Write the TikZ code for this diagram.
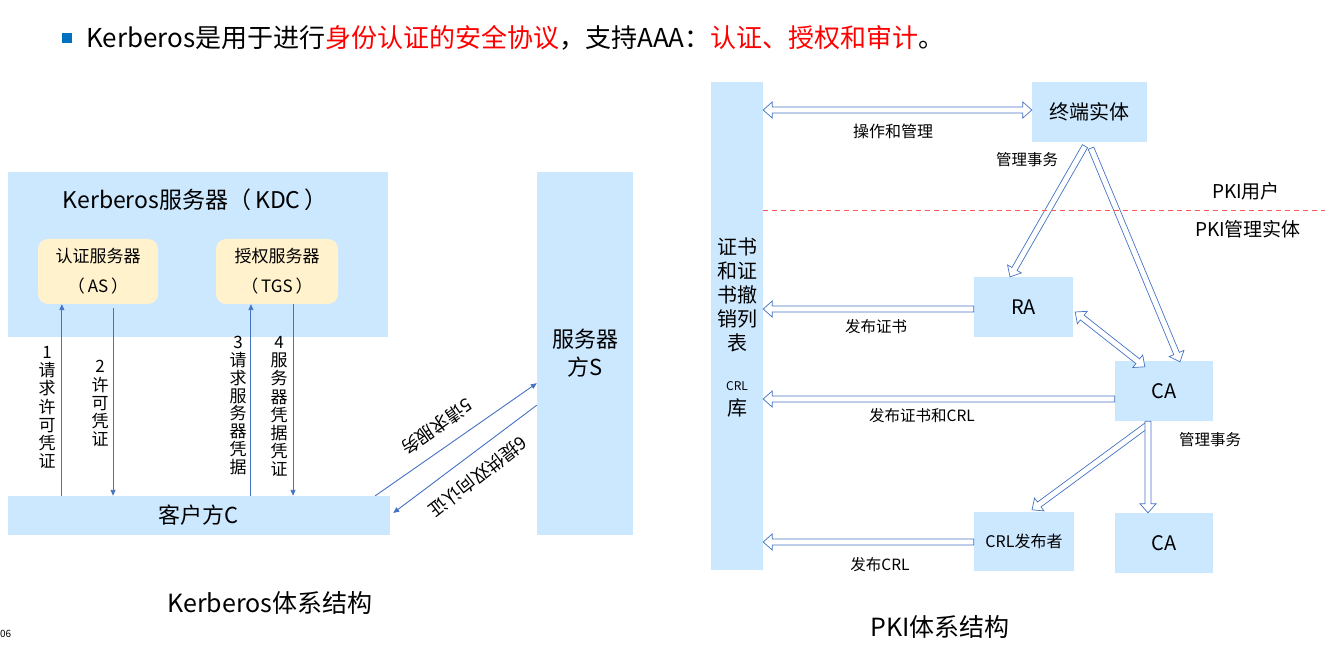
\documentclass[tikz,border=0pt]{standalone}
\usepackage{fontspec}
\setmainfont{Noto Sans CJK SC}
\usetikzlibrary{calc,arrows.meta}

\definecolor{boxblue}{RGB}{204,232,255}
\definecolor{boxcream}{RGB}{255,242,204}
\definecolor{lineblue}{RGB}{68,114,196}
\definecolor{titlered}{RGB}{255,0,0}
\definecolor{dashred}{RGB}{255,85,85}
\definecolor{bulletblue}{RGB}{0,112,192}

\tikzset{
  bluebox/.style={fill=boxblue, draw=none, inner sep=0pt},
  creambox/.style={fill=boxcream, draw=none, rounded corners=10pt, inner sep=0pt, align=center},
  kline/.style={draw=lineblue, line width=0.9pt, -{Triangle[length=6pt,width=5pt]}},
  hollowline/.style={draw=lineblue, line width=0.7pt, fill=white, line join=miter},
  lbl/.style={inner sep=0pt, align=center},
}

% hollow block arrow: tail, tip
\newcommand{\hollowarrow}[2]{%
  \coordinate (hb) at ($(#2)!9pt!(#1)$);
  \draw[hollowline] ($(#1)!3pt!-90:(#2)$) -- ($(hb)!3pt!90:(#1)$) -- ($(hb)!8pt!90:(#1)$) -- (#2)
    -- ($(hb)!8pt!-90:(#1)$) -- ($(hb)!3pt!-90:(#1)$) -- ($(#1)!3pt!90:(#2)$) -- cycle;}
% hollow block arrow with two heads
\newcommand{\hollowdouble}[2]{%
  \coordinate (ha) at ($(#1)!9pt!(#2)$);
  \coordinate (hb) at ($(#2)!9pt!(#1)$);
  \draw[hollowline] (#1) -- ($(ha)!8pt!-90:(#2)$) -- ($(ha)!3pt!-90:(#2)$) -- ($(hb)!3pt!90:(#1)$)
    -- ($(hb)!8pt!90:(#1)$) -- (#2) -- ($(hb)!8pt!-90:(#1)$) -- ($(hb)!3pt!-90:(#1)$)
    -- ($(ha)!3pt!90:(#2)$) -- ($(ha)!8pt!90:(#2)$) -- cycle;}

\begin{document}
\begin{tikzpicture}[x=1pt,y=1pt,yscale=-1]
\useasboundingbox (0,0) rectangle (1325,660);

%Shape: Square [id:bullet]
\fill[bulletblue] (62,33) rectangle (72,43);
% Text Node
\node (title) [lbl, anchor=west, font=\fontsize{26}{30}\selectfont] at (86,38) {Kerberos是用于进行\textcolor{titlered}{身份认证的安全协议}，支持AAA：\textcolor{titlered}{认证、授权和审计}。};

%Shape: Rectangle [id:kdc]
\node (kdc) [bluebox, minimum width=380, minimum height=165] at (198,254.5) {};
% Text Node
\node (kdctitle) [lbl, font=\fontsize{23}{26}\selectfont] at (195,200) {Kerberos服务器（\,KDC\,）};
%Shape: Rounded Rect [id:as]
\node (as) [creambox, minimum width=120, minimum height=65, font=\fontsize{17}{30}\selectfont] at (98,271.5) {认证服务器\\（\,AS\,）};
%Shape: Rounded Rect [id:tgs]
\node (tgs) [creambox, minimum width=122, minimum height=65, font=\fontsize{17}{30}\selectfont] at (277,271.5) {授权服务器\\（\,TGS\,）};
%Shape: Rectangle [id:client]
\node (client) [bluebox, minimum width=382, minimum height=39, font=\fontsize{22}{26}\selectfont] at (199,515.5) {客户方C};
%Shape: Rectangle [id:server]
\node (server) [bluebox, minimum width=96, minimum height=363, align=center, font=\fontsize{22}{28}\selectfont] at (585,353.5) {服务器\\方S};

\coordinate (a1) at ($(as.south west)!0.2!(as.south east)$);
\coordinate (a2) at ($(as.south west)!0.625!(as.south east)$);
\coordinate (a3) at ($(tgs.south west)!0.287!(tgs.south east)$);
\coordinate (a4) at ($(tgs.south west)!0.631!(tgs.south east)$);
%Straight Lines
\draw[kline] (client.north -| a1) -- (a1);
\draw[kline] ($(a2)+(0,4)$) -- (client.north -| a2);
\draw[kline] (client.north -| a3) -- (a3);
\draw[kline] (a4) -- (client.north -| a4);
\draw[kline] ($(client.north east)+(-15,0)$) -- ($(server.south west)+(0,-152)$);
\draw[kline] ($(server.south west)+(0,-130)$) -- ($(client.east)+(3,-2.5)$);

% Text Node
\node (l1) [lbl, font=\fontsize{17}{18.2}\selectfont] at (47,407.5) {1\\请\\求\\许\\可\\凭\\证};
\node (l2) [lbl, font=\fontsize{17}{18.2}\selectfont] at (100,403.5) {2\\许\\可\\凭\\证};
\node (l3) [lbl, font=\fontsize{17}{17.9}\selectfont] at (238,405.5) {3\\请\\求\\服\\务\\器\\凭\\据};
\node (l4) [lbl, font=\fontsize{17}{18.1}\selectfont] at (279,406.5) {4\\服\\务\\器\\凭\\据\\凭\\证};
\node (l5) [lbl, font=\fontsize{18}{20}\selectfont, rotate=215] at (437,427) {5请求服务};
\node (l6) [lbl, font=\fontsize{18}{20}\selectfont, rotate=218] at (478,477) {6提供双向认证};
% Text Node
\node (kcap) [lbl, font=\fontsize{25}{28}\selectfont] at (270,603) {Kerberos体系结构};
\node (page) [lbl, anchor=west, font=\fontsize{10}{12}\selectfont] at (0,634) {06};

%Shape: Rectangle [id:lib]
\node (lib) [bluebox, minimum width=52, minimum height=488] at (737,326) {};
\node (libtext) [lbl, font=\fontsize{20}{24}\selectfont] at (737,295) {证书\\和证\\书撤\\销列\\表};
\node (crltext) [lbl, font=\fontsize{12}{14}\selectfont] at (737,386) {CRL};
\node (kutext) [lbl, font=\fontsize{20}{24}\selectfont] at (737,408) {库};
%Shape: Rectangle [id:ee]
\node (ee) [bluebox, minimum width=115, minimum height=60, font=\fontsize{20}{24}\selectfont] at (1089.5,112) {终端实体};
\node (ra) [bluebox, minimum width=99, minimum height=60, font=\fontsize{20}{24}\selectfont] at (1023.5,307) {RA};
\node (ca) [bluebox, minimum width=98, minimum height=60, font=\fontsize{20}{24}\selectfont] at (1164,391) {CA};
\node (ca2) [bluebox, minimum width=98, minimum height=60, font=\fontsize{20}{24}\selectfont] at (1164,543) {CA};
\node (crlpub) [bluebox, minimum width=100, minimum height=59, font=\fontsize{16}{20}\selectfont] at (1024,541.5) {CRL发布者};

%Hollow Arrows
\coordinate (eeL) at ($(ee.west)+(0,-2)$);
\coordinate (libE) at (lib.east |- eeL);
\hollowdouble{libE}{eeL}
\coordinate (eeS1) at ($(ee.south)+(-4.5,4)$);
\coordinate (raN) at ($(ra.north)+(-13.5,0)$);
\hollowarrow{eeS1}{raN}
\coordinate (eeS2) at ($(ee.south)+(1.5,6)$);
\coordinate (caN) at ($(ca.north)+(16,1)$);
\hollowarrow{eeS2}{caN}
\coordinate (raE) at ($(ra.east)+(2,5)$);
\coordinate (caNW) at ($(ca.north west)+(30,6)$);
\hollowdouble{raE}{caNW}
\coordinate (raW) at ($(ra.west)+(0,2)$);
\coordinate (libR) at (lib.east |- raW);
\hollowarrow{raW}{libR}
\coordinate (caW) at ($(ca.west)+(0,8)$);
\coordinate (libC) at (lib.east |- caW);
\hollowarrow{caW}{libC}
\coordinate (caS1) at ($(ca.south)+(-17,4)$);
\coordinate (crlN) at ($(crlpub.north)+(8,-2)$);
\hollowarrow{caS1}{crlN}
\coordinate (caS2) at ($(ca.south)+(-16,0)$);
\coordinate (ca2N) at ($(ca2.north)+(-16,0)$);
\hollowarrow{caS2}{ca2N}
\coordinate (crlW) at ($(crlpub.west)+(0,0.5)$);
\coordinate (libP) at (lib.east |- crlW);
\hollowarrow{crlW}{libP}

%Straight Lines [dashed]
\draw[dashred, line width=1pt, dash pattern=on 5pt off 4pt] ($(lib.east)+(0,-115)$) -- ++(562,0);

% Text Node
\node (t1) [lbl, font=\fontsize{16}{20}\selectfont] at (893,131) {操作和管理};
\node (t2) [lbl, font=\fontsize{15.5}{20}\selectfont] at (1027,160) {管理事务};
\node (t3) [lbl, font=\fontsize{15.5}{20}\selectfont] at (876,327) {发布证书};
\node (t4) [lbl, font=\fontsize{15.5}{20}\selectfont] at (922,416) {发布证书和CRL};
\node (t5) [lbl, font=\fontsize{15.5}{20}\selectfont] at (1210,440) {管理事务};
\node (t6) [lbl, font=\fontsize{15.5}{20}\selectfont] at (880,565) {发布CRL};
\node (t7) [lbl, font=\fontsize{19}{22}\selectfont] at (1246,191) {PKI用户};
\node (t8) [lbl, font=\fontsize{19}{22}\selectfont] at (1248,229) {PKI管理实体};
\node (pcap) [lbl, font=\fontsize{25}{28}\selectfont] at (940,627) {PKI体系结构};

\end{tikzpicture}
\end{document}
